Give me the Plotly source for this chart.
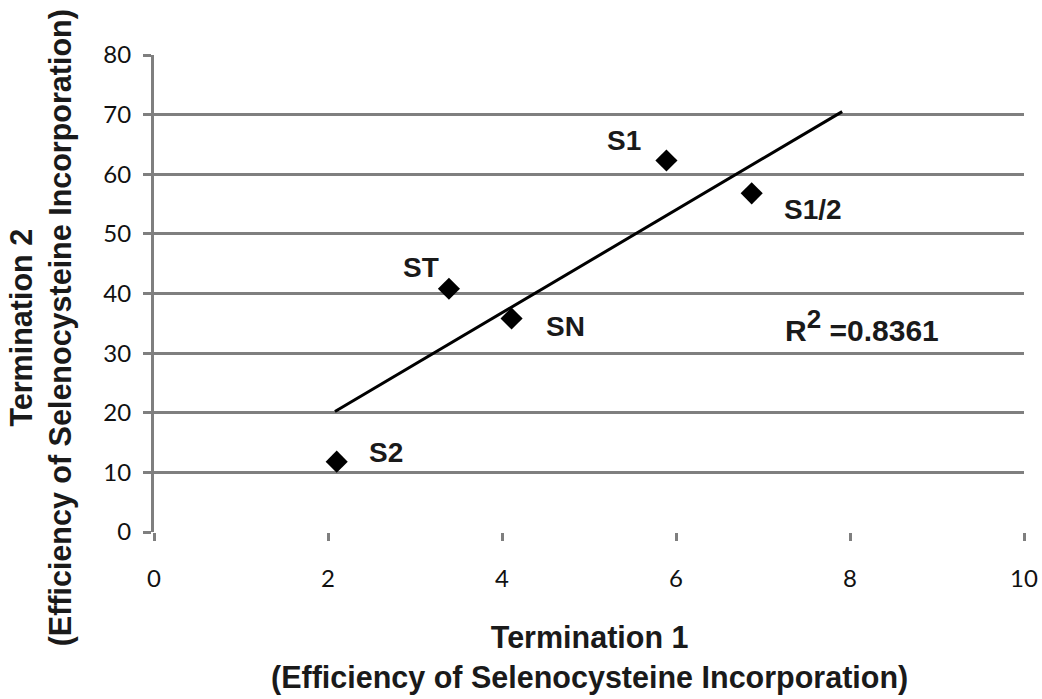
import plotly.graph_objects as go

# data
names = ["S2", "ST", "SN", "S1", "S1/2"]
term1 = [2.10, 3.39, 4.11, 5.89, 6.87]
term2 = [11.8, 40.8, 35.8, 62.3, 56.8]
trend_x = [2.08, 7.91]
trend_y = [20.2, 70.5]
r2_label = "R<sup><span style='font-size:26px'>2</span></sup> =0.8361"
r2_pos = (8.14, 34.7)
x_ticks = [0, 2, 4, 6, 8, 10]
y_ticks = [0, 10, 20, 30, 40, 50, 60, 70, 80]
x_title = "Termination 1<br>(Efficiency of Selenocysteine Incorporation)"
y_title = "Termination 2<br>(Efficiency of Selenocysteine Incorporation)"

# label offsets in pixels (style)
label_shift = {"S2": (49, 9), "ST": (-28, 21), "SN": (54, -8), "S1": (-42, 20), "S1/2": (61, -16)}

GRID = "#7f7f7f"
LABEL_FONT = dict(family="Liberation Sans, Arial, sans-serif", size=28, color="#1a1a1a")
TITLE_FONT = dict(family="Liberation Sans, Arial, sans-serif", size=30.5, color="#1a1a1a")
TICK_FONT = dict(family="Lato, Open Sans, sans-serif", size=24, color="#111111")

fig = go.Figure()
fig.add_trace(go.Scatter(x=trend_x, y=trend_y, mode="lines",
                         line=dict(color="black", width=3), hoverinfo="skip", showlegend=False))
fig.add_trace(go.Scatter(x=term1, y=term2, mode="markers",
                         marker=dict(symbol="diamond", size=17, color="black"), showlegend=False))

for n, xv, yv in zip(names, term1, term2):
    dx, dy = label_shift[n]
    fig.add_annotation(x=xv, y=yv, text=f"<b>{n}</b>", showarrow=False,
                       xshift=dx, yshift=dy, font=LABEL_FONT)

fig.add_annotation(x=r2_pos[0], y=r2_pos[1], text=f"<b>{r2_label}</b>", showarrow=False,
                   font=dict(family="Liberation Sans, Arial, sans-serif", size=30, color="#1a1a1a"))

fig.add_annotation(xref="paper", yref="paper", x=0.5, y=-0.1796, yanchor="top",
                   text=f"<b>{x_title}</b>", showarrow=False, font=TITLE_FONT)
fig.add_annotation(xref="paper", yref="paper", x=-0.1747, y=0.428, xanchor="left", yanchor="middle",
                   textangle=-90, text=f"<b>{y_title}</b>", showarrow=False, font=TITLE_FONT)

fig.update_xaxes(range=[0, 10], tickvals=x_ticks, showgrid=False, zeroline=False,
                 showline=False, ticks="outside", ticklen=8, tickwidth=3, tickcolor=GRID,
                 tickfont=TICK_FONT, ticklabelstandoff=17)
fig.update_yaxes(range=[0, 80], tickvals=y_ticks, showgrid=True, gridcolor=GRID, gridwidth=3,
                 zeroline=False, showline=True, linecolor=GRID, linewidth=3,
                 ticks="outside", ticklen=8, tickwidth=3, tickcolor=GRID,
                 tickfont=TICK_FONT, ticklabelstandoff=7)

fig.update_layout(width=1042, height=699, margin=dict(l=154, r=18, t=55, b=167, autoexpand=False),
                  plot_bgcolor="white", paper_bgcolor="white", showlegend=False)

fig.write_html("out.html", config={"displayModeBar": False},
               post_script="document.body.style.margin='0';document.body.style.overflow='hidden';")
